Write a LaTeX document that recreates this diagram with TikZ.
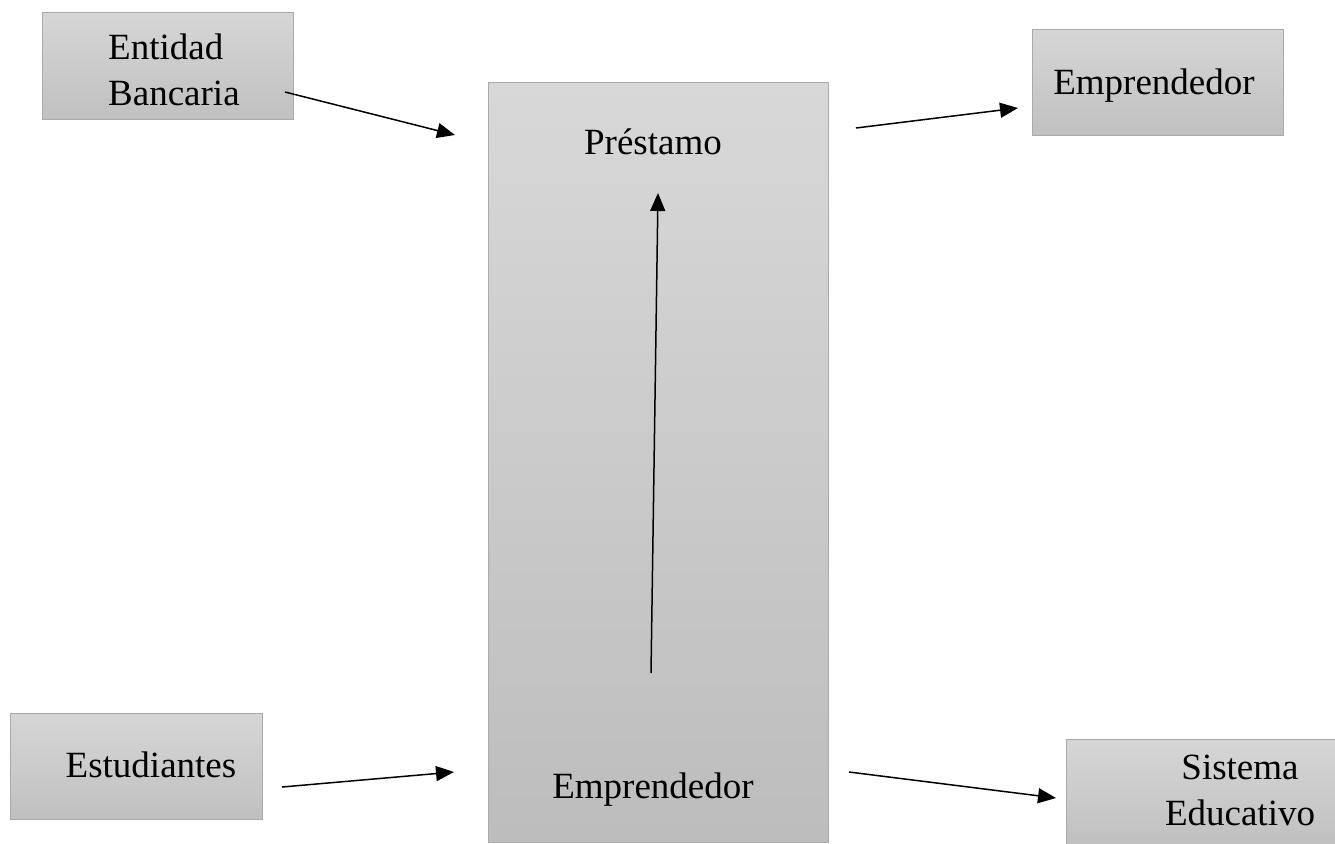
\documentclass[tikz,border=0pt]{standalone}
\usepackage{fontspec}
\setmainfont{Liberation Serif}
\usetikzlibrary{arrows.meta}
\definecolor{boxtop}{RGB}{214,214,214}
\definecolor{boxbot}{RGB}{192,192,192}
\definecolor{boxline}{RGB}{170,170,170}
\tikzset{
  box/.style={draw=boxline, line width=1.2pt, top color=boxtop, bottom color=boxbot,
              inner sep=0pt, anchor=north west},
  label/.style={inner sep=0pt, font=\fontsize{37}{46}\selectfont, text=black},
  flow/.style={line width=1.5pt, -{Triangle[length=18pt,width=15pt]}}
}
\begin{document}
\begin{tikzpicture}[x=1pt, y=-1pt]
  \useasboundingbox (0,0) rectangle (1335,843);
  % boxes
  \node[box, minimum width=251pt, minimum height=107pt] (bank) at (42,12) {};
  \node[box, minimum width=340pt, minimum height=760pt, top color=boxtop!95!white, bottom color=boxbot!105] (core) at (488,82) {};
  \node[box, minimum width=251pt, minimum height=106pt] (entre) at (1032,29) {};
  \node[box, minimum width=252pt, minimum height=106pt] (stud) at (10,713) {};
  \node[box, minimum width=272pt, minimum height=106pt] (edu) at (1066,739) {};
  % texts
  \node[label, align=left, anchor=west] (bankT) at (108,70) {Entidad\\Bancaria};
  \node[label] (loanT) at (653,142) {Préstamo};
  \node[label] (coreT) at (653,790) {Emprendedor};
  \node[label] (entreT) at (1154,86) {Emprendedor};
  \node[label] (studT) at (151,765) {Estudiantes};
  \node[label, align=center] (eduT) at (1240,790) {Sistema\\Educativo};
  % connector end points
  \coordinate (a1) at (285,92);   \coordinate (a2) at (455,135);
  \coordinate (b1) at (856,128);  \coordinate (b2) at (1018,108);
  \coordinate (c1) at (651,673);  \coordinate (c2) at (658,193);
  \coordinate (d1) at (282,787);  \coordinate (d2) at (454,772);
  \coordinate (e1) at (849,772);  \coordinate (e2) at (1056,798);
  % connectors
  \draw[flow] (a1) -- (a2);
  \draw[flow] (b1) -- (b2);
  \draw[flow] (c1) -- (c2);
  \draw[flow] (d1) -- (d2);
  \draw[flow] (e1) -- (e2);
\end{tikzpicture}
\end{document}
